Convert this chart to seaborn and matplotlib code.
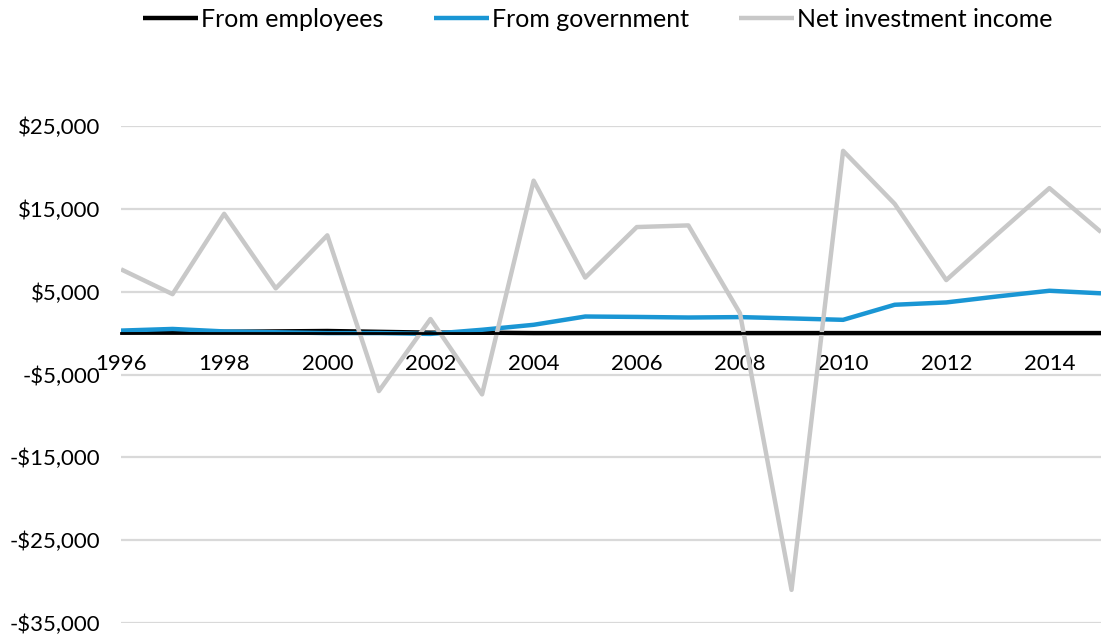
import matplotlib
matplotlib.use("Agg")
import matplotlib.pyplot as plt
import matplotlib.ticker as mticker
import numpy as np
import pandas as pd
import seaborn as sns

# Annual flows, US dollars
years = list(range(1996, 2016))
from_employees = [100, 200, 150, 200, 250, 150, 50, 50, 0, 0,
                  0, 0, 0, 0, 0, 0, 0, 0, 0, 0]
from_government = [300, 500, 200, 100, 0, 0, -100, 400, 1000, 2000,
                   1950, 1880, 1930, 1770, 1600, 3420, 3700, 4430, 5110, 4800]
net_investment_income = [7700, 4700, 14400, 5400, 11800, -7000, 1700, -7400, 18400, 6700,
                         12800, 13000, 2400, -31000, 22000, 15600, 6400, 12000, 17500, 12200]

series_names = ["From employees", "From government", "Net investment income"]
series_colors = ["#000000", "#1a96d4", "#c8c8c8"]

df = pd.concat([
    pd.DataFrame({"year": years, "value": vals, "series": name})
    for name, vals in zip(series_names, [from_employees, from_government, net_investment_income])
])

sns.set_style("white")
plt.rcParams["font.family"] = ["Lato", "DejaVu Sans"]
plt.rcParams["text.color"] = "black"

fig = plt.figure(figsize=(11.01, 6.36), dpi=100)
ax = fig.add_axes([121 / 1101, 13 / 636, 1 - 121 / 1101, (623 - 126) / 636])

sns.lineplot(data=df, x="year", y="value", hue="series", hue_order=series_names,
             palette=series_colors, linewidth=3.2, ax=ax, solid_capstyle="butt")

ax.set_xlim(1996, 2014.88)
ax.set_ylim(-35000, 25000)
ax.set_yticks(np.arange(-35000, 25001, 10000))
ax.yaxis.set_major_formatter(mticker.FuncFormatter(
    lambda v, _: f"-${abs(v):,.0f}" if v < 0 else f"${v:,.0f}"))
ax.set_xticks(years)
ax.set_xticklabels([str(y) if y % 2 == 0 else "" for y in years])
ax.set_xlabel("")
ax.set_ylabel("")

ax.grid(axis="y", color="#d9d9d9", linewidth=1.6)
ax.set_axisbelow(True)
for side in ["top", "right", "left"]:
    ax.spines[side].set_visible(False)
ax.spines["bottom"].set_position(("data", 0))
ax.spines["bottom"].set_color("black")
ax.spines["bottom"].set_linewidth(2)

ax.tick_params(axis="x", direction="out", length=7, width=1.5, color="black",
               labelsize=16, pad=8, labelcolor="black")
ax.tick_params(axis="y", length=0, labelsize=16, pad=15, labelcolor="black")

sns.move_legend(ax, "center", bbox_to_anchor=(0.543, 0.97), bbox_transform=fig.transFigure,
                ncol=3, frameon=False, title=None, fontsize=18,
                handlelength=2.2, handletextpad=0.12, columnspacing=2.0)
for t in ax.get_legend().get_texts():
    t.set_color("black")

fig.savefig("out.png", dpi=100)
